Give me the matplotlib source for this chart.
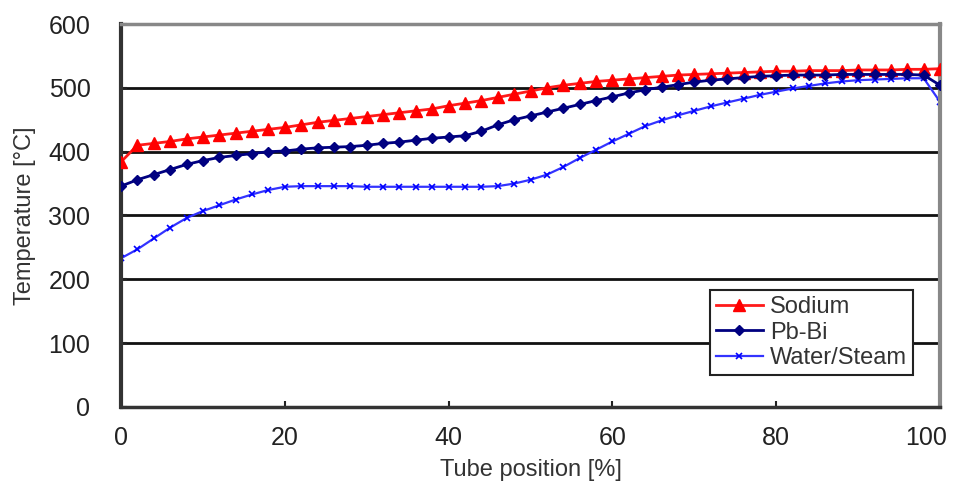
import numpy as np
import matplotlib.pyplot as plt
from matplotlib.transforms import ScaledTranslation

plt.rcParams['font.family'] = ['Liberation Sans', 'DejaVu Sans']

# tube position [%], one point every 2 %
position = np.arange(0, 101, 2)

sodium = [384, 410, 413, 416, 420, 423, 426, 429, 432, 435,
          438, 442, 446, 449, 452, 455, 458, 461, 464, 467,
          472, 476, 480, 485, 490, 495, 500, 504, 507, 510,
          512, 514, 516, 518, 520, 521, 522, 523, 524, 525,
          526, 526, 527, 527, 527, 528, 528, 528, 529, 529, 530]

pbbi = [346, 356, 364, 372, 380, 386, 391, 394, 397, 400,
        401, 404, 406, 407, 408, 410, 413, 415, 418, 421,
        423, 425, 432, 442, 450, 456, 462, 468, 474, 480,
        486, 492, 497, 501, 505, 509, 512, 514, 516, 518,
        519, 520, 520, 520, 521, 521, 521, 521, 521, 520, 504]

water = [233, 247, 264, 281, 296, 307, 316, 325, 333, 340,
         345, 346, 346, 346, 346, 345, 345, 345, 345, 345,
         345, 345, 345, 346, 350, 356, 364, 376, 390, 403,
         416, 428, 440, 449, 457, 464, 471, 477, 483, 489,
         494, 499, 503, 507, 510, 512, 513, 514, 515, 515, 478]

fig = plt.figure(figsize=(9.58, 4.87), dpi=100)
ax = fig.add_axes([0.1263, 0.1643, 0.855, 0.7864])

for yv in [100, 200, 300, 400, 500]:
    ax.axhline(yv, color='#111111', lw=2, zorder=1)

ax.plot(position, sodium, '-', color='#ff1a1a', lw=2, marker='^', ms=8,
        mfc='red', mec='red', label='Sodium', zorder=3)
ax.plot(position, pbbi, '-', color='#000080', lw=2, marker='D', ms=5,
        mfc='#000080', mec='#000080', label='Pb-Bi', zorder=4)
ax.plot(position, water, '-', color='#3333ff', lw=1.6, marker='x', ms=4,
        mew=1.2, mfc='#0000ff', mec='#0000ff', label='Water/Steam', zorder=2)

ax.set_xlim(0, 100)
ax.set_ylim(0, 600)
ax.set_xticks([0, 20, 40, 60, 80, 100])
ax.set_yticks([0, 100, 200, 300, 400, 500, 600])
ax.tick_params(axis='both', direction='in', length=4, width=1.5,
               color='#222222', labelsize=18, labelcolor='#222222')
ax.tick_params(axis='y', pad=22)
ax.tick_params(axis='x', pad=14)

# the last x label sits a little left of its tick, as in the original
fig.canvas.draw()
last = ax.get_xticklabels()[-1]
last.set_transform(last.get_transform() + ScaledTranslation(-14 / 100, 0, fig.dpi_scale_trans))

ax.spines['left'].set_color('#333333')
ax.spines['left'].set_linewidth(3)
ax.spines['bottom'].set_color('#333333')
ax.spines['bottom'].set_linewidth(2.5)
ax.spines['top'].set_color('#888888')
ax.spines['top'].set_linewidth(2.5)
ax.spines['right'].set_color('#888888')
ax.spines['right'].set_linewidth(3)

ax.set_xlabel('Tube position [%]', fontsize=17, color='#333333')
ax.set_ylabel('Temperature [°C]', fontsize=17, color='#333333')
ax.xaxis.set_label_coords(0.5, -0.135)
ax.yaxis.set_label_coords(-0.104, 0.5)

leg = ax.legend(loc='upper right', bbox_to_anchor=(0.967, 0.305),
                borderaxespad=0, fontsize=17, fancybox=False,
                edgecolor='#222222', framealpha=1, handlelength=2.0,
                handletextpad=0.3, labelspacing=0.15, borderpad=0.25)
leg.get_frame().set_linewidth(1.5)
for t in leg.get_texts():
    t.set_color('#333333')

fig.savefig('out.png', dpi=100)
